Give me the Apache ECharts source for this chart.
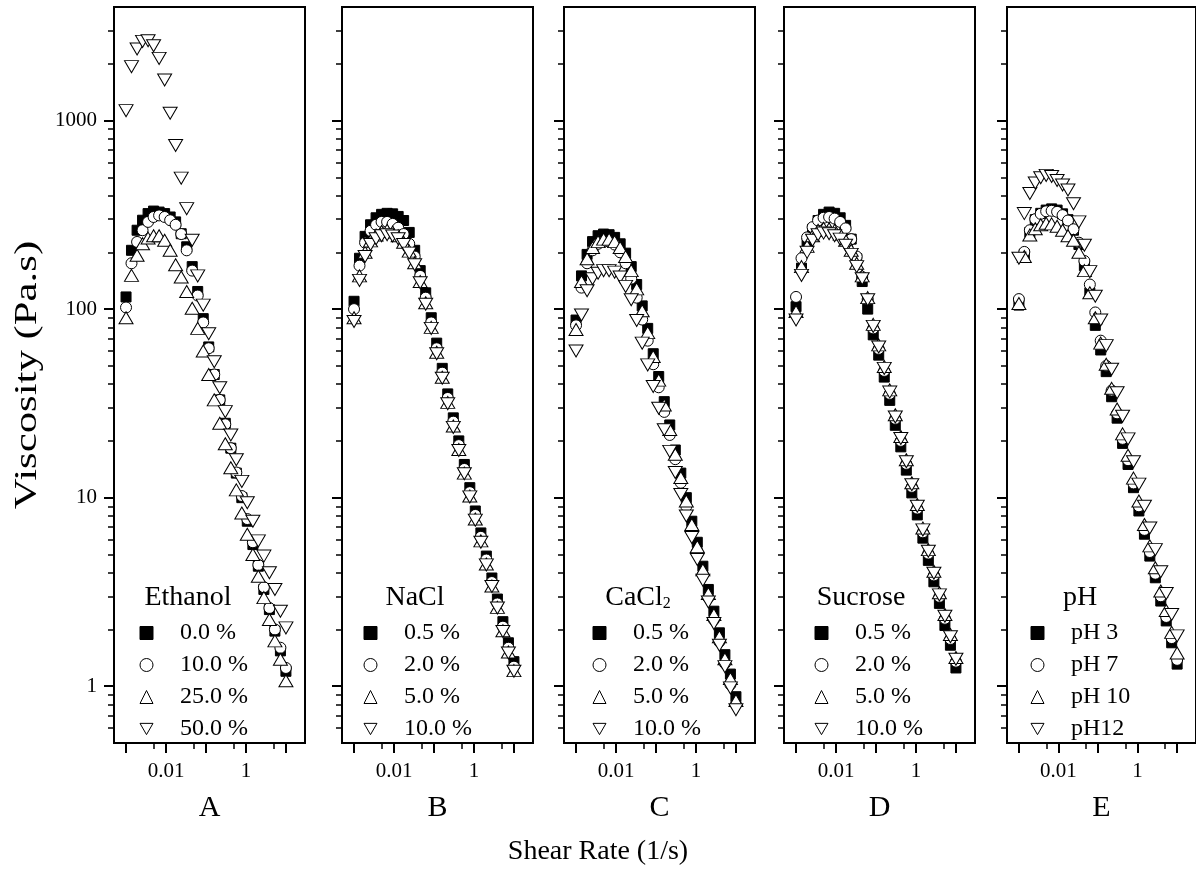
<!DOCTYPE html>
<html>
<head>
<meta charset="utf-8">
<script src="https://cdn.jsdelivr.net/npm/echarts@6/dist/echarts.min.js"></script>
<style>
html,body{margin:0;padding:0;background:#fff;}
#chart{width:1196px;height:877px;}
</style>
</head>
<body>
<div id="chart"></div>
<script>
// ---------------- DATA ----------------
const shearRate = [0.001, 0.00137, 0.00189, 0.00259, 0.00356, 0.00489, 0.00672, 0.00924, 0.0127, 0.0174,
  0.0240, 0.0329, 0.0452, 0.0621, 0.0853, 0.117, 0.161, 0.221, 0.304, 0.418,
  0.574, 0.788, 1.08, 1.49, 2.04, 2.81, 3.86, 5.30, 7.28, 10.0];

// A: Ethanol
const ethanol_0  = [116,205,262,296,321,331,327,321,308,290,251,214,168,124,89,63,45,33,24.8,18.3,13.5,10,7.5,5.64,4.33,3.26,2.55,1.96,1.54,1.2];
const ethanol_10 = [102,175,227,262,290,308,314,308,296,280,250,205,160,118,85,62,45,33,24.5,18.3,13.6,10.2,7.7,5.8,4.4,3.35,2.6,2.0,1.6,1.25];
const ethanol_25 = [90,151,193,222,238,245,245,232,205,172,148,124,101,79,60,45,33,24.8,19.3,14.4,11,8.3,6.4,5.0,3.83,2.95,2.26,1.74,1.39,1.07];
const ethanol_50 = [1129,1931,2395,2628,2651,2494,2136,1642,1093,737,495,341,232,150,105,74,52.6,38.3,28.6,21.5,15.9,12.2,9.4,7.5,5.9,4.9,4.0,3.26,2.5,2.04];

// B: NaCl
const nacl_05  = [110,186,243,280,305,318,322,320,310,295,255,205,160,122,90,66,48.5,35.5,26.5,20,15,11.3,8.5,6.5,4.9,3.75,2.9,2.2,1.7,1.35];
const nacl_20  = [100,170,225,260,280,290,290,283,270,250,222,190,150,115,85,62,46,33.8,25.3,19,14.2,10.7,8.1,6.2,4.7,3.57,2.75,2.07,1.6,1.27];
const nacl_50  = [90,150,200,230,247,258,262,256,245,226,203,176,140,108,80,59,43.5,32,24,18,13.5,10.2,7.7,5.9,4.45,3.4,2.62,1.97,1.52,1.21];
const nacl_100 = [86,142,190,220,236,245,248,244,236,220,198,172,138,106,79,58,43,31.5,23.6,17.8,13.4,10.1,7.6,5.8,4.4,3.38,2.6,1.95,1.5,1.2];

// C: CaCl2
const cacl_05  = [87.5,150,195,228,245,250,248,240,222,198,168,135,104,79,58,43.9,32.3,24.3,17.9,13.5,10,7.5,5.8,4.33,3.26,2.5,1.92,1.47,1.16,0.88];
const cacl_20  = [82,130,175,205,222,228,228,220,200,175,145,115,88,68,51,38.5,28.5,21.5,16,12,9,6.8,5.2,3.9,2.95,2.25,1.72,1.32,1.02,0.8];
const cacl_50  = [78,140,185,212,228,235,235,228,212,190,160,128,98,75,56,42,31,23,17,12.8,9.6,7.2,5.5,4.15,3.1,2.4,1.83,1.4,1.1,0.84];
const cacl_100 = [60,93,125,145,155,160,160,157,148,132,112,87,66,50.6,38.9,29.8,22.9,17.6,13.6,10.4,8.0,6.15,4.7,3.65,2.8,2.15,1.65,1.27,0.98,0.75];

// D: Sucrose
const sucrose_05  = [103,165,225,265,295,318,327,322,305,278,235,185,140,100,73,57,43.6,32.8,24.2,18.6,14,10.6,8.1,6.1,4.65,3.58,2.75,2.1,1.65,1.25];
const sucrose_20  = [116,186,240,272,295,305,308,302,290,268,235,190,148,113,79,61.5,47,35.5,26.2,20,15.1,11.4,8.75,6.55,5.05,3.87,2.98,2.28,1.78,1.35];
const sucrose_50  = [97,168,215,245,262,268,267,262,250,232,205,175,150,115,83,64.6,49.6,37.3,27.5,21.1,15.9,12,9.2,6.9,5.3,4.07,3.13,2.4,1.88,1.42];
const sucrose_100 = [87.5,151,200,232,248,253,251,245,235,218,195,168,145,112,81,63,48.5,36.3,26.8,20.6,15.5,11.7,9,6.75,5.2,3.97,3.05,2.35,1.83,1.39];

// E: pH
const ph_3  = [105,195,255,298,322,335,340,335,320,298,262,220,170,122,82,60.7,46.6,34.3,26.4,19.4,15,11.3,8.5,6.4,4.9,3.76,2.83,2.22,1.70,1.31];
const ph_7  = [113,201,262,300,320,330,332,328,315,295,265,225,180,135,96,68,50,37,28,20.5,15.8,11.9,9.0,6.75,5.15,3.95,3.0,2.33,1.8,1.38];
const ph_10 = [107,190,247,267,280,285,283,275,262,245,232,200,160,122,90,66,51,38,29.5,21.8,16.8,12.7,9.6,7.2,5.55,4.25,3.2,2.52,1.93,1.5];
const ph_12 = [186,321,410,466,497,512,505,481,455,428,362,290,218,158,117,87.5,64,48,36,27,20.5,15.5,11.8,9.0,6.9,5.3,4.05,3.1,2.4,1.85];

const panelLetters = ['A','B','C','D','E'];
const legendTitles = ['Ethanol','NaCl','CaCl{sub|2}','Sucrose','pH'];
const ethanolLabels = ['0.0 %','10.0 %','25.0 %','50.0 %'];
const naclLabels = ['0.5 %','2.0 %','5.0 %','10.0 %'];
const caclLabels = ['0.5 %','2.0 %','5.0 %','10.0 %'];
const sucroseLabels = ['0.5 %','2.0 %','5.0 %','10.0 %'];
const phLabels = ['pH 3','pH 7','pH 10','pH12'];

const xTickLabels = ['0.01','1'];
const xLabelValues = [0.01, 1];
const xMajorTicks = [0.001, 0.01, 0.1, 1, 10];
const xMinorTicks = [0.005, 0.05, 0.5, 5];
const yTickLabels = ['1','10','100','1000'];
const yMajorTicks = [1, 10, 100, 1000];
const yMinorTicks = [0.6,0.7,0.8,0.9, 2,3,4,5,6,7,8,9, 20,30,40,50,60,70,80,90,
  200,300,400,500,600,700,800,900, 2000,3000];

const xAxisTitle = 'Shear Rate (1/s)';
const yAxisTitle = 'Viscosity (Pa.s)';

// ---------------- BUILD ----------------
const lg = Math.log10;
const FONT = "'Liberation Serif','Times New Roman',serif";
const X_MIN = 0.0005, X_MAX = 30, Y_MIN = 0.5, Y_MAX = 4000;

const panels = [
  {letter: panelLetters[0], title: legendTitles[0], labels: ethanolLabels, data: [ethanol_0, ethanol_10, ethanol_25, ethanol_50]},
  {letter: panelLetters[1], title: legendTitles[1], labels: naclLabels, data: [nacl_05, nacl_20, nacl_50, nacl_100]},
  {letter: panelLetters[2], title: legendTitles[2], labels: caclLabels, data: [cacl_05, cacl_20, cacl_50, cacl_100]},
  {letter: panelLetters[3], title: legendTitles[3], labels: sucroseLabels, data: [sucrose_05, sucrose_20, sucrose_50, sucrose_100]},
  {letter: panelLetters[4], title: legendTitles[4], labels: phLabels, data: [ph_3, ph_7, ph_10, ph_12]}
];

const panelLeft = [114, 342, 564, 784, 1007];
const PANEL_TOP = 7, PANEL_W = 191, PANEL_H = 736;
const legendIconX = [146, 370, 599, 821, 1037];
const legendTitleX = [188, 415, 638, 861, 1080];
const LEGEND_ROW1 = 633, LEGEND_TITLE_Y = 598;

const DOWN_TRI = 'path://M0,0L10,0L5,8.66Z';
const markerSymbols = ['rect', 'circle', 'triangle', DOWN_TRI];
const markerSizes = [10, 11, [14, 12], [14, 12]];
const markerFills = ['#000', '#fff', '#fff', '#fff'];

function fmtFrom(values, labels) {
  return function (v) {
    for (let i = 0; i < values.length; i++) {
      if (Math.abs(lg(values[i]) - v) < 1e-6) return labels[i];
    }
    return '';
  };
}

const grids = [], xAxes = [], yAxes = [], series = [], legends = [], graphics = [];

panels.forEach((p, pi) => {
  grids.push({
    left: panelLeft[pi], top: PANEL_TOP, width: PANEL_W, height: PANEL_H,
    show: true, borderColor: '#000', borderWidth: 2, backgroundColor: 'transparent', containLabel: false
  });
  xAxes.push({
    type: 'value', gridIndex: pi, min: lg(X_MIN), max: lg(X_MAX), position: 'bottom',
    axisLine: {show: true, onZero: false, lineStyle: {color: '#000', width: 2}},
    axisTick: {show: true, customValues: xMajorTicks.map(lg), length: 10, lineStyle: {color: '#000', width: 2}},
    axisLabel: {show: true, customValues: xLabelValues.map(lg), formatter: fmtFrom(xLabelValues, xTickLabels),
      fontFamily: FONT, fontSize: 21, color: '#000', margin: 18},
    splitLine: {show: false},
    name: p.letter, nameLocation: 'middle', nameGap: 50,
    nameTextStyle: {fontFamily: FONT, fontSize: 30, color: '#000'}
  });
  xAxes.push({
    type: 'value', gridIndex: pi, min: lg(X_MIN), max: lg(X_MAX), position: 'bottom',
    axisLine: {show: false, onZero: false},
    axisTick: {show: true, customValues: xMinorTicks.map(lg), length: 6, lineStyle: {color: '#000', width: 1.5}},
    axisLabel: {show: false}, splitLine: {show: false}
  });
  yAxes.push({
    type: 'value', gridIndex: pi, min: lg(Y_MIN), max: lg(Y_MAX), position: 'left',
    axisLine: {show: true, onZero: false, lineStyle: {color: '#000', width: 2}},
    axisTick: {show: true, customValues: yMajorTicks.map(lg), length: 10, lineStyle: {color: '#000', width: 2}},
    axisLabel: {show: pi === 0, customValues: yMajorTicks.map(lg), formatter: fmtFrom(yMajorTicks, yTickLabels),
      fontFamily: FONT, fontSize: 21, color: '#000', margin: 17},
    splitLine: {show: false}
  });
  yAxes.push({
    type: 'value', gridIndex: pi, min: lg(Y_MIN), max: lg(Y_MAX), position: 'left',
    axisLine: {show: false, onZero: false},
    axisTick: {show: true, customValues: yMinorTicks.map(lg), length: 6, lineStyle: {color: '#000', width: 1.5}},
    axisLabel: {show: false}, splitLine: {show: false}
  });

  p.data.forEach((vals, si) => {
    series.push({
      type: 'scatter', name: p.letter + '|' + p.labels[si],
      xAxisIndex: 2 * pi, yAxisIndex: 2 * pi,
      symbol: markerSymbols[si], symbolSize: markerSizes[si],
      itemStyle: {color: markerFills[si], borderColor: '#000', borderWidth: 1, opacity: 1},
      emphasis: {disabled: true}, silent: true,
      data: shearRate.map((x, k) => [lg(x), lg(vals[k])])
    });
  });

  legends.push({
    orient: 'vertical', left: legendIconX[pi] - 6.5, top: LEGEND_ROW1 - 12, padding: 0,
    itemGap: 8, itemWidth: 13, itemHeight: 13, selectedMode: false,
    data: p.labels.map((l, si) => ({name: p.letter + '|' + l, icon: markerSymbols[si]})),
    formatter: n => '{g| }' + n.split('|')[1],
    textStyle: {fontFamily: FONT, fontSize: 24, color: '#000', lineHeight: 24, rich: {g: {width: 22}}},
    itemStyle: {borderColor: '#000', borderWidth: 1}
  });

  graphics.push({
    type: 'text', x: legendTitleX[pi], y: LEGEND_TITLE_Y, silent: true,
    style: {text: p.title, align: 'center', verticalAlign: 'middle', fontFamily: FONT, fontSize: 28, fill: '#000',
      rich: {sub: {fontFamily: FONT, fontSize: 16, verticalAlign: 'bottom', fill: '#000'}}}
  });
});

graphics.push({
  type: 'text', x: 598, y: 852, silent: true,
  style: {text: xAxisTitle, align: 'center', verticalAlign: 'middle', fontFamily: FONT, fontSize: 28, fill: '#000'}
});
graphics.push({
  type: 'text', x: 28, y: 375, rotation: Math.PI / 2, scaleX: 1.38, silent: true,
  style: {text: yAxisTitle, align: 'center', verticalAlign: 'middle', fontFamily: FONT, fontSize: 31, fill: '#000'}
});

const chart = echarts.init(document.getElementById('chart'), null, {renderer: 'canvas'});
chart.setOption({
  animation: false,
  backgroundColor: '#fff',
  grid: grids, xAxis: xAxes, yAxis: yAxes, series: series, legend: legends, graphic: graphics
});
</script>
</body>
</html>
